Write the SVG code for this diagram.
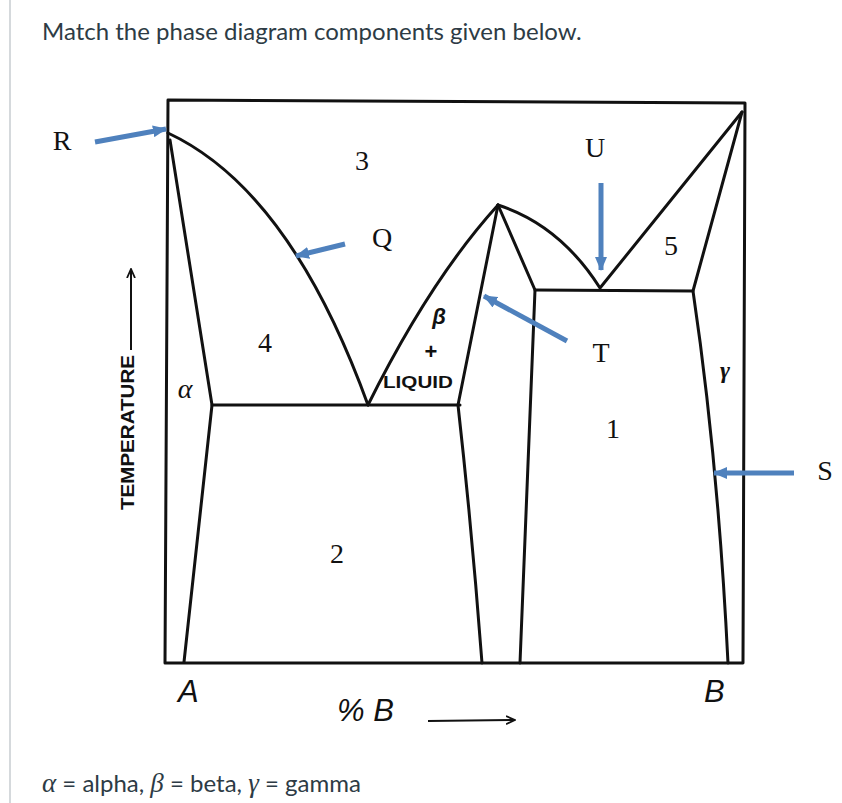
<svg xmlns="http://www.w3.org/2000/svg" width="842" height="803" viewBox="0 0 842 803">
<defs>
<style>
.ln{fill:none;stroke:#111;stroke-width:3;stroke-linecap:round;stroke-linejoin:round}
.bl{fill:none;stroke:#4f81bd;stroke-width:5;marker-end:url(#bh)}
.thin{fill:none;stroke:#111;stroke-width:2}
.num{font-family:"Liberation Serif",serif;font-size:28px;fill:#111;text-anchor:middle}
.hand{font-family:"Liberation Sans",sans-serif;font-style:italic;font-size:31px;fill:#111}
.ui{font-family:Lato,"Liberation Sans",sans-serif;font-size:24px;fill:#2d3b45}
.gk{font-family:"Liberation Serif",serif;font-style:italic;font-size:27px}
</style>
<marker id="bh" viewBox="0 0 14 12" refX="13" refY="6" markerWidth="14" markerHeight="12" markerUnits="userSpaceOnUse" orient="auto">
<path d="M0,0 L14,6 L0,12 Z" fill="#4f81bd"/>
</marker>
<marker id="oh" viewBox="0 0 10 10" refX="9" refY="5" markerWidth="10" markerHeight="10" markerUnits="userSpaceOnUse" orient="auto">
<path d="M0,1 L9,5 L0,9" fill="none" stroke="#111" stroke-width="1.8"/>
</marker>
</defs>
<rect width="842" height="803" fill="#fff"/>
<line x1="10" y1="0" x2="10" y2="803" stroke="#c7cdd1" stroke-width="1.5"/>
<text class="ui" x="42" y="40">Match the phase diagram components given below.</text>

<g id="diagram">
<path class="ln" d="M168,100 L745,103 L743,663 L165,663 Z"/>
<path class="ln" d="M168,133 Q290,190 368,405"/>
<path class="ln" d="M170,140 L212,405 Q200,520 184,662"/>
<path class="ln" d="M212,405 L460,405"/>
<path class="ln" d="M368,405 Q430,280 498,205"/>
<path class="ln" d="M498,205 L458,405 Q472,530 482,663"/>
<path class="ln" d="M498,205 L535,290 Q528,470 520,663"/>
<path class="ln" d="M498,205 Q560,225 600,288 L742,112"/>
<path class="ln" d="M535,290 L693,291"/>
<path class="ln" d="M742,112 L693,291 Q718,460 728,663"/>
</g>

<g id="labels">
<text class="num" x="62" y="150">R</text>
<text class="num" x="362" y="170">3</text>
<text class="num" x="382" y="247">Q</text>
<text class="num" x="265" y="352">4</text>
<text class="num" x="595" y="157">U</text>
<text class="num" x="671" y="255">5</text>
<text class="num" x="601" y="362">T</text>
<text class="num" x="613" y="438">1</text>
<text class="num" x="337" y="563">2</text>
<text class="num" x="825" y="480">S</text>
<text x="439" y="324" font-family="Liberation Sans,sans-serif" font-weight="bold" font-style="italic" font-size="22" fill="#111" text-anchor="middle">β</text>
<text x="431" y="359" font-family="Liberation Sans,sans-serif" font-weight="bold" font-size="22" fill="#111" text-anchor="middle">+</text>
<text x="383" y="388" font-family="Liberation Sans,sans-serif" font-weight="bold" font-size="17" fill="#111" textLength="70" lengthAdjust="spacingAndGlyphs">LIQUID</text>
<text x="725" y="378" font-family="Liberation Serif,serif" font-style="italic" font-weight="bold" font-size="24" fill="#111" text-anchor="middle">γ</text>
<text x="185" y="398" font-family="Liberation Serif,serif" font-style="italic" font-size="28" fill="#111" text-anchor="middle">α</text>
<text x="0" y="0" transform="translate(134,510) rotate(-90)" font-family="Liberation Sans,sans-serif" font-weight="bold" font-size="18" fill="#111" textLength="155" lengthAdjust="spacingAndGlyphs">TEMPERATURE</text>
<text class="hand" x="178" y="702">A</text>
<text class="hand" x="337" y="721">% B</text>
<text class="hand" x="704" y="702">B</text>
</g>

<g id="connectors">
<path class="bl" d="M95,142 L166,129"/>
<path class="bl" d="M345,244 L296,256"/>
<path class="bl" d="M567,341 L484,296"/>
<path class="bl" d="M601,183 L601,270"/>
<path class="bl" d="M794,473 L714,473"/>
<path class="thin" d="M131,350 L131,269" marker-end="url(#oh)"/>
<path class="thin" d="M428,721 L515,720" marker-end="url(#oh)"/>
</g>

<text class="ui" x="42" y="792"><tspan class="gk">α</tspan> = alpha, <tspan class="gk">β</tspan> = beta, <tspan class="gk">γ</tspan> = gamma</text>
</svg>
